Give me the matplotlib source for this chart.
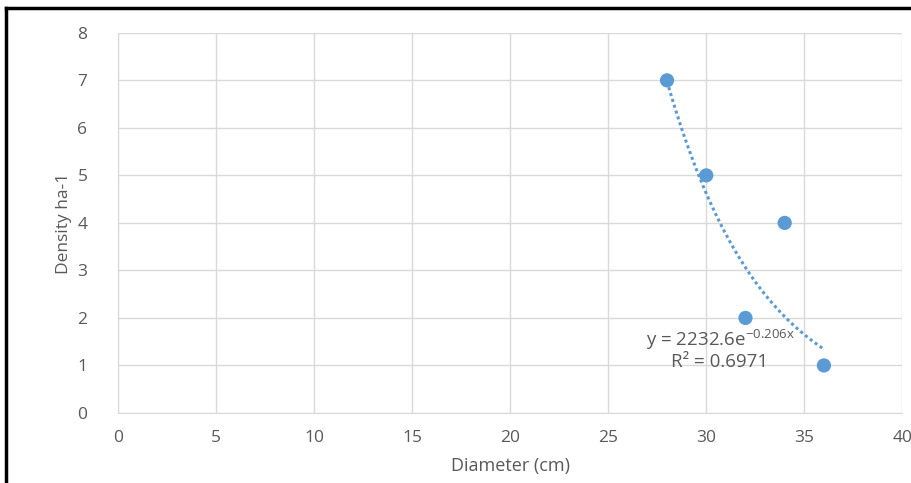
import numpy as np
import matplotlib.pyplot as plt
from matplotlib.lines import Line2D

# data
diameter = [28, 30, 34, 32, 36]
density = [7, 5, 4, 2, 1]
fit_a = 2232.6
fit_b = -0.206
x_ticks = [0, 5, 10, 15, 20, 25, 30, 35, 40]
y_ticks = [0, 1, 2, 3, 4, 5, 6, 7, 8]

blue = '#5B9BD5'
grey_text = '#595959'
grid_col = '#D9D9D9'

plt.rcParams['font.family'] = ['Open Sans', 'DejaVu Sans']
plt.rcParams['mathtext.default'] = 'regular'

fig = plt.figure(figsize=(9.11, 4.83), dpi=100)
ax = fig.add_axes([0.1295, 0.145, 0.861, 0.787])

# trendline (exponential fit) over the data range
xs = np.linspace(min(diameter), max(diameter), 100)
ax.plot(xs, fit_a * np.exp(fit_b * xs), color=blue, linestyle=(0, (1, 1)),
        linewidth=2.2, zorder=2)
ax.scatter(diameter, density, s=105, color=blue, zorder=3, edgecolors='none')

ax.set_xlim(0, 40)
ax.set_ylim(0, 8)
ax.set_xticks(x_ticks)
ax.set_yticks(y_ticks)
ax.grid(True, color=grid_col, linewidth=1)
ax.set_axisbelow(True)
for side in ['top', 'right']:
    ax.spines[side].set_visible(False)
for side in ['left', 'bottom']:
    ax.spines[side].set_color(grid_col)
ax.tick_params(length=0, colors=grey_text, labelsize=12.5)
ax.tick_params(axis='y', pad=22)
ax.tick_params(axis='x', pad=12)

ax.set_xlabel('Diameter (cm)', color=grey_text, fontsize=13, labelpad=8)
ax.set_ylabel('Density ha-1', color=grey_text, fontsize=12.5, labelpad=4)

ax.text(30.7, 1.54, 'y = 2232.6e$^{-0.206x}$', color=grey_text, fontsize=13.5,
        ha='center', va='center')
ax.text(30.7, 1.07, 'R² = 0.6971', color=grey_text, fontsize=13.5,
        ha='center', va='center')

# black frame around the chart
fig.add_artist(Line2D([0.0066, 0.0066], [0, 0.983], color='black', linewidth=2.5,
                      transform=fig.transFigure))
fig.add_artist(Line2D([0.0066, 1.0], [0.983, 0.983], color='black', linewidth=2.5,
                      transform=fig.transFigure))

fig.savefig('out.png', dpi=100)
